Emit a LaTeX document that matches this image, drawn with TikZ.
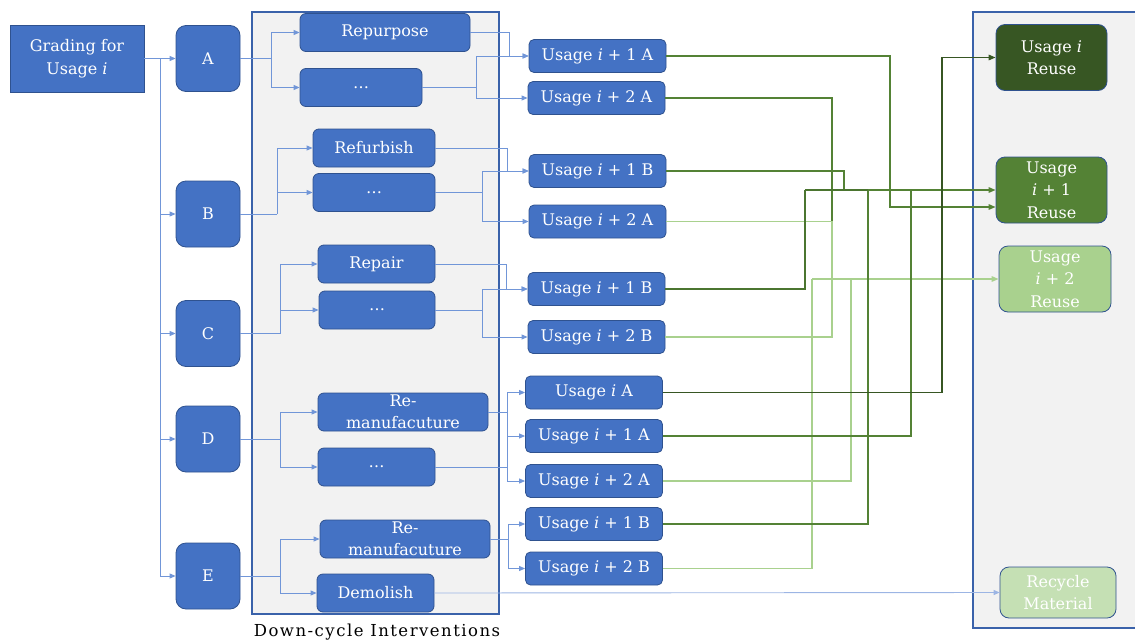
\documentclass[tikz,border=0pt]{standalone}
\usepackage{fontspec}
\setmainfont{DejaVu Serif}
\newfontfamily\spacedfont[LetterSpace=9]{DejaVu Serif}
\usetikzlibrary{arrows.meta}

\definecolor{boxBlue}{HTML}{4472C4}
\definecolor{edgeBlue}{HTML}{2F528F}
\definecolor{wireBlue}{HTML}{7196D8}
\definecolor{paneGray}{HTML}{F2F2F2}
\definecolor{paneEdge}{HTML}{3A62AA}
\definecolor{greenI}{HTML}{375623}
\definecolor{greenII}{HTML}{548235}
\definecolor{greenIII}{HTML}{A9D18E}
\definecolor{greenIV}{HTML}{C5E0B4}

\newcommand{\vi}{\textit{i}}

\tikzset{
  box/.style={draw=edgeBlue, line width=0.8pt, fill=boxBlue, text=white, align=center, inner sep=1pt,
    font=\fontsize{16}{22.5}\selectfont},
  grade/.style={box, minimum width=134pt, minimum height=67pt},
  choice/.style={box, rounded corners=10pt, minimum width=64pt, minimum height=66pt},
  act/.style={box, rounded corners=6pt, minimum height=38pt},
  usage/.style={box, rounded corners=5pt, minimum width=137pt, minimum height=33pt},
  reuse/.style={box, rounded corners=9pt, minimum width=111pt, minimum height=66pt},
  wire/.style={draw=wireBlue, line width=0.9pt},
  flow/.style={wire, -{Triangle[length=6pt,width=5pt]}},
  lineI/.style={draw=greenI, line width=1.5pt},
  lineII/.style={draw=greenII, line width=1.5pt},
  lineIII/.style={draw=greenIII, line width=1.5pt},
  tip/.style={-{Triangle[length=7pt,width=5.5pt]}},
}

\begin{document}
\begin{tikzpicture}[x=1pt,y=1pt,yscale=-1,xscale=1]
\useasboundingbox (0,0) rectangle (1135,643);

% Panes
\draw[fill=paneGray, draw=paneEdge, line width=1.2pt] (252,12) rectangle (499,614);
\draw[fill=paneGray, draw=paneEdge, line width=1.2pt] (973,12) rectangle (1145,628);
\node[font=\spacedfont\fontsize{16.5}{19}\selectfont] (paneLabel) at (377,632) {Down-cycle Interventions};

% Grades
\node[grade] (grade) at (77,58.5) {Grading for\\Usage \vi};
\node[choice] (gA) at (208,58.5) {A};
\node[choice] (gB) at (208,214) {B};
\node[choice] (gC) at (208,333.5) {C};
\node[choice] (gD) at (208,439) {D};
\node[choice] (gE) at (208,576) {E};

% Interventions
\node[act, minimum width=170pt] (rep) at (385,32.5) {Repurpose};
\node[act, minimum width=122pt] (dotsA) at (361,87.5) {\dots};
\node[act, minimum width=122pt] (ref) at (374,148) {Refurbish};
\node[act, minimum width=122pt] (dotsB) at (374,192.5) {\dots};
\node[act, minimum width=117pt] (repair) at (376.5,264) {Repair};
\node[act, minimum width=116pt] (dotsC) at (377,310) {\dots};
\node[act, minimum width=170pt] (remD) at (403,412) {Re-\\manufacuture};
\node[act, minimum width=117pt] (dotsD) at (376.5,467) {\dots};
\node[act, minimum width=170pt] (remE) at (405,539) {Re-\\manufacuture};
\node[act, minimum width=117pt] (dem) at (375.5,593) {Demolish};

% Usages
\node[usage] (uA1a) at (597.5,56) {Usage \vi\ + 1 A};
\node[usage] (uA2a) at (596.5,98) {Usage \vi\ + 2 A};
\node[usage] (uB1b) at (597.5,171) {Usage \vi\ + 1 B};
\node[usage] (uA2b) at (597.5,221.5) {Usage \vi\ + 2 A};
\node[usage] (uB1c) at (596.5,289) {Usage \vi\ + 1 B};
\node[usage] (uB2c) at (596.5,337) {Usage \vi\ + 2 B};
\node[usage] (uAid) at (594,392.5) {Usage \vi\ A};
\node[usage] (uA1d) at (594,436) {Usage \vi\ + 1 A};
\node[usage] (uA2d) at (594,481) {Usage \vi\ + 2 A};
\node[usage] (uB1e) at (594,524) {Usage \vi\ + 1 B};
\node[usage] (uB2e) at (594,568.5) {Usage \vi\ + 2 B};

% Outcomes
\node[reuse, fill=greenI] (r0) at (1051.5,57.5) {Usage \vi\\Reuse};
\node[reuse, fill=greenII] (r1) at (1051.5,190) {Usage\\\vi\ + 1\\Reuse};
\node[reuse, fill=greenIII, minimum width=112pt] (r2) at (1055,279) {Usage\\\vi\ + 2\\Reuse};
\node[reuse, fill=greenIV, minimum width=116pt, minimum height=51pt] (rec) at (1058,592.5) {Recycle\\Material};

% Grading to grades
\coordinate (trunk) at (160,58.5);
\draw[flow] (grade.east) -- (gA.west);
\foreach \g in {gB,gC,gD,gE}
  \draw[flow] (trunk) |- (\g.west);

% Grades to interventions
\coordinate (sA) at (271,58.5);
\coordinate (sB) at (277,214);
\coordinate (sC) at (280,333.5);
\coordinate (sD) at (280,439);
\coordinate (sE) at (280,576);
\draw[wire] (gA.east) -- (sA);
\draw[flow] (sA) |- (rep.west);
\draw[flow] (sA) |- (dotsA.west);
\draw[wire] (gB.east) -- (sB);
\draw[flow] (sB) |- (ref.west);
\draw[flow] (sB) |- (dotsB.west);
\draw[wire] (gC.east) -- (sC);
\draw[flow] (sC) |- (repair.west);
\draw[flow] (sC) |- (dotsC.west);
\draw[wire] (gD.east) -- (sD);
\draw[flow] (sD) |- (remD.west);
\draw[flow] (sD) |- (dotsD.west);
\draw[wire] (gE.east) -- (sE);
\draw[flow] (sE) |- (remE.west);
\draw[flow] (sE) |- (dem.west);

% Interventions to usages
\coordinate (kA1) at (509,56);
\coordinate (kA) at (476,87.5);
\draw[flow] (rep.east) -| (kA1) -- (uA1a.west);
\draw[wire] (dotsA.east) -- (kA);
\draw[flow] (kA) |- (uA1a.west);
\draw[flow] (kA) |- (uA2a.west);
\coordinate (kB1) at (507,171);
\coordinate (kB) at (482,192.5);
\draw[flow] (ref.east) -| (kB1) -- (uB1b.west);
\draw[wire] (dotsB.east) -- (kB);
\draw[flow] (kB) |- (uB1b.west);
\draw[flow] (kB) |- (uA2b.west);
\coordinate (kC1) at (506,289);
\coordinate (kC) at (482,310);
\draw[flow] (repair.east) -| (kC1) -- (uB1c.west);
\draw[wire] (dotsC.east) -- (kC);
\draw[flow] (kC) |- (uB1c.west);
\draw[flow] (kC) |- (uB2c.west);
\coordinate (kD) at (507,412);
\coordinate (kD2) at (507,467);
\draw[wire] (remD.east) -- (kD);
\draw[wire] (dotsD.east) -- (kD2);
\draw[flow] (kD) |- (uAid.west);
\draw[flow] (kD) |- (uA1d.west);
\draw[flow] (kD) |- (uA2d.west);
\coordinate (kE) at (508,539);
\draw[wire] (remE.east) -- (kE);
\draw[flow] (kE) |- (uB1e.west);
\draw[flow] (kE) |- (uB2e.west);
\draw[flow, draw=wireBlue!70] (dem.east) -- (rec.west);

% Usage i+2 to reuse
\coordinate (j2) at (812,279);
\coordinate (j2a) at (832,279);
\coordinate (j2b) at (832,221.5);
\coordinate (j2d) at (851,279);
\draw[lineII] (uA2a.east) -| (j2b);
\draw[lineIII] (uA2b.east) -| (j2a);
\draw[lineIII] (uB2c.east) -| (j2a);
\draw[lineIII] (uA2d.east) -| (j2d);
\draw[lineIII] (uB2e.east) -| (j2);
\draw[lineIII, tip, greenIII] (j2) -- (r2.west);

% Usage i+1 to reuse
\coordinate (j1) at (805,190);
\coordinate (j1b) at (844,190);
\coordinate (j1e) at (868,190);
\coordinate (j1d) at (911,190);
\coordinate (j1a) at (890,207);
\draw[lineII] (uB1b.east) -| (j1b);
\draw[lineII, draw=greenII!70!greenI] (uB1c.east) -| (j1);
\draw[lineII] (uB1e.east) -| (j1e);
\draw[lineII] (uA1d.east) -| (j1d);
\draw[lineII, draw=greenII!70!greenI] (j1) -- (j1e);
\draw[lineII, tip, greenII] (j1e) -- (r1.west);
\draw[lineII, tip, greenII] (uA1a.east) -| (j1a) -- (r1.west |- j1a);

% Usage i to reuse
\coordinate (j0) at (942,57.5);
\draw[lineI, tip, greenI] (uAid.east) -| (j0) -- (r0.west);
\end{tikzpicture}
\end{document}
